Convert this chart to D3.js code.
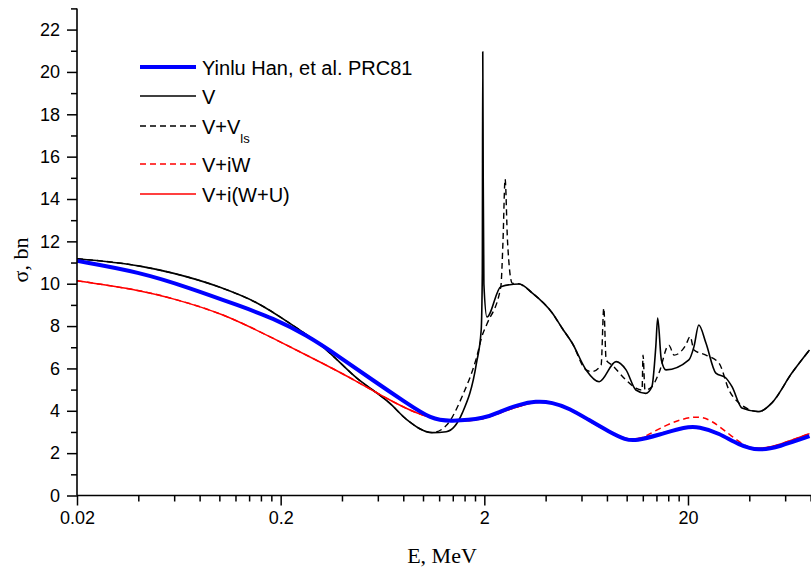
<!DOCTYPE html>
<html>
<head>
<meta charset="utf-8">
<script src="https://cdn.jsdelivr.net/npm/d3@7"></script>
<style>
  body { margin: 0; background: #fff; }
  .tick text { font-family: Arial, 'Liberation Sans', sans-serif; font-size: 18px; fill: #000; }
  .title { font-family: 'Times New Roman', 'Liberation Serif', serif; font-size: 22px; fill: #000; }
  .legend text { font-family: Arial, 'Liberation Sans', sans-serif; font-size: 20px; fill: #000; }
</style>
</head>
<body>
<div id="chart"></div>
<script>
// cross sections, [E MeV, sigma bn]
const han = [
  [0.02, 11.08], [0.0407, 10.55], [0.0716, 9.8], [0.126, 8.95], [0.183, 8.38],
  [0.268, 7.58], [0.389, 6.55], [0.565, 5.45], [0.829, 4.37], [1.1, 3.6],
  [1.35, 3.49], [2.04, 3.64], [2.37, 3.96], [2.97, 4.3], [3.58, 4.46],
  [4.31, 4.4], [5.22, 4.12], [6.54, 3.56], [8.2, 3.01], [9.9, 2.62],
  [11.1, 2.58], [14.4, 2.86], [19.5, 3.25], [22.6, 3.25], [28.4, 2.95],
  [35.6, 2.38], [44.6, 2.1], [55.9, 2.30], [79, 2.8]
]
const potV = [
  [0.02, 11.18], [0.0407, 10.83], [0.0591, 10.5], [0.1, 9.84], [0.153, 9.09],
  [0.221, 8.14], [0.321, 7.03], [0.472, 5.55], [0.684, 4.37], [0.829, 3.6],
  [1.11, 2.97], [1.30, 3.01], [1.56, 3.9], [1.83, 6.25], [1.93, 7.8],
  [1.955, 10.5], [1.965, 20.95], [1.975, 15], [1.99, 10], [2.06, 8.43],
  [2.41, 9.86], [2.97, 9.99], [3.44, 9.56], [4.31, 8.62], [4.82, 7.9],
  [5.40, 7.2], [6.32, 5.93], [7.33, 5.37], [8.87, 6.32], [9.93, 5.93],
  [11.1, 4.98], [12.4, 4.82], [13.3, 5.14], [13.9, 7.03], [14.2, 8.38],
  [14.8, 6.4], [15.6, 5.93], [20.2, 6.4], [21.4, 7.03], [22.6, 8.05],
  [24.5, 7.2], [27.4, 5.78], [30.7, 5.55], [32.9, 5.14], [36.8, 4.13],
  [44.6, 3.96], [51.6, 4.37], [64.7, 5.78], [79, 6.87]
]
const potVls = [
  [0.02, 11.18], [0.0407, 10.83], [0.0591, 10.5], [0.1, 9.84], [0.153, 9.09],
  [0.221, 8.14], [0.321, 7.03], [0.472, 5.55], [0.684, 4.37], [0.829, 3.6],
  [1.11, 2.97], [1.30, 3.3], [1.56, 4.7], [1.83, 6.5], [1.96, 7.6],
  [2.06, 8.1], [2.41, 9.86], [2.47, 12], [2.53, 14.94], [2.6, 12],
  [2.74, 10.03], [2.97, 9.99], [3.44, 9.56], [4.31, 8.62], [4.82, 7.9],
  [5.40, 7.2], [6.32, 5.93], [6.76, 5.85], [7.49, 6.16], [7.72, 8.85],
  [7.93, 6.4], [8.47, 6.16], [9.93, 5.45], [11.1, 5.07], [11.9, 4.98],
  [12.03, 6.63], [12.3, 4.98], [13.3, 5.14], [14.4, 5.78], [16.1, 7.1],
  [17.1, 6.63], [19.5, 7.1], [20.5, 7.5], [21.4, 6.87], [24.5, 6.63],
  [28.4, 6.25], [31.8, 4.98], [35.6, 4.37], [44.6, 3.96], [51.6, 4.37],
  [64.7, 5.78], [79, 6.87]
]
const potW = [
  [0.02, 10.14], [0.0407, 9.7], [0.0593, 9.3], [0.104, 8.6], [0.183, 7.43],
  [0.321, 6.25], [0.472, 5.4], [0.684, 4.5], [0.993, 3.72], [1.46, 3.44],
  [2.04, 3.62], [2.37, 3.9], [2.97, 4.22], [3.58, 4.44], [4.31, 4.38],
  [5.22, 4.1], [6.54, 3.52], [8.2, 2.98], [9.9, 2.66], [11.1, 2.64],
  [12.4, 2.78], [16.1, 3.42], [21.9, 3.8], [26.2, 3.56], [32.9, 2.78],
  [38.5, 2.30], [44.6, 2.16], [55.9, 2.38], [79, 2.92]
]
const potWU = [
  [0.02, 10.14], [0.0407, 9.7], [0.0593, 9.3], [0.104, 8.6], [0.183, 7.43],
  [0.321, 6.25], [0.472, 5.4], [0.684, 4.5], [0.993, 3.72], [1.46, 3.44],
  [2.04, 3.62], [2.37, 3.9], [2.97, 4.22], [3.58, 4.44], [4.31, 4.38],
  [5.22, 4.1], [6.54, 3.52], [8.2, 2.98], [9.9, 2.66], [11.1, 2.65],
  [14.4, 2.9], [19.5, 3.27], [22.6, 3.24], [28.4, 2.92], [35.6, 2.38],
  [44.6, 2.16], [55.9, 2.38], [79, 2.92]
]

const xMajor = [0.02, 0.2, 2, 20]
const xLabels = ['0.02', '0.2', '2', '20']
const yMajor = d3.range(0, 23, 2)
const yMinor = d3.range(1, 24, 2)

const series = [
  { name: 'V', data: potV, color: '#000', width: 1.6, dash: null, smooth: false },
  { name: 'V+Vls', data: potVls, color: '#000', width: 1.4, dash: '6,4', smooth: false },
  { name: 'V+iW', data: potW, color: '#f00', width: 1.5, dash: '6,4', smooth: true },
  { name: 'V+i(W+U)', data: potWU, color: '#f00', width: 1.5, dash: null, smooth: true },
  { name: 'Yinlu Han, et al. PRC81', data: han, color: '#0000ff', width: 4, dash: null, smooth: true }
]

const width = 811, height = 571
const svg = d3.select('#chart').append('svg')
  .attr('width', width).attr('height', height)

const x = d3.scaleLog().domain([0.02, 80]).range([77, 810.6])
const y = d3.scaleLinear().domain([0, 23]).range([495.5, 8.4])

// minor x ticks: 2..9 times each decade start
const xMinor = []
xMajor.forEach(d => d3.range(2, 10).forEach(k => { if (d * k <= 80) xMinor.push(d * k) }))

const sharpLine = d3.line()
  .x(d => x(d[0]))
  .y(d => y(d[1]))
  .curve(d3.curveMonotoneX)
const smoothLine = d3.line()
  .x(d => x(d[0]))
  .y(d => y(d[1]))
  .curve(d3.curveBasis)

const plot = svg.append('g')
series.forEach(s => {
  plot.append('path')
    .datum(s.data)
    .attr('d', s.smooth ? smoothLine : sharpLine)
    .attr('fill', 'none')
    .attr('stroke', s.color)
    .attr('stroke-width', s.width)
    .attr('stroke-dasharray', s.dash)
    .attr('stroke-linejoin', 'round')
})

// axes
const xAxis = svg.append('g')
  .attr('transform', `translate(0,${y(0)})`)
  .call(d3.axisBottom(x).tickValues(xMajor).tickFormat((d, i) => xLabels[i]).tickSize(10).tickPadding(6))
svg.append('g')
  .attr('transform', `translate(0,${y(0)})`)
  .call(d3.axisBottom(x).tickValues(xMinor).tickFormat('').tickSize(6))
  .select('.domain').remove()

const yAxis = svg.append('g')
  .attr('transform', `translate(${x(0.02)},0)`)
  .call(d3.axisLeft(y).tickValues(yMajor).tickSize(10).tickPadding(7))
svg.append('g')
  .attr('transform', `translate(${x(0.02)},0)`)
  .call(d3.axisLeft(y).tickValues(yMinor).tickFormat('').tickSize(6))
  .select('.domain').remove()

svg.selectAll('.domain').attr('stroke', '#000').attr('stroke-width', 1.6)
xAxis.select('.domain').attr('d', `M${x(0.02)},0H${width}`)
yAxis.select('.domain').attr('d', `M0,${y(0)}V${y(23)}`)
svg.selectAll('.tick line').attr('stroke', '#000').attr('stroke-width', 1.5)

// axis titles
svg.append('text').attr('class', 'title')
  .attr('x', 442).attr('y', 563)
  .attr('text-anchor', 'middle')
  .text('E, MeV')
svg.append('text').attr('class', 'title')
  .attr('transform', 'translate(28,260) rotate(-90)')
  .attr('text-anchor', 'middle')
  .text('σ, bn')

// legend
const legendRows = [
  { s: series[4], y: 67 },
  { s: series[0], y: 96 },
  { s: series[1], y: 126 },
  { s: series[2], y: 164 },
  { s: series[3], y: 194 }
]
const legend = svg.append('g').attr('class', 'legend')
legendRows.forEach(r => {
  legend.append('line')
    .attr('x1', 140).attr('x2', 196)
    .attr('y1', r.y).attr('y2', r.y)
    .attr('stroke', r.s.color)
    .attr('stroke-width', r.s.width)
    .attr('stroke-dasharray', r.s.dash)
  const t = legend.append('text')
    .attr('x', 202).attr('y', r.y + 7.5)
  if (r.s.name === 'V+Vls') {
    t.append('tspan').text('V+V')
    t.append('tspan').attr('dy', 9).style('font-size', '13px').text('ls')
  } else {
    t.text(r.s.name)
  }
})
</script>
</body>
</html>
